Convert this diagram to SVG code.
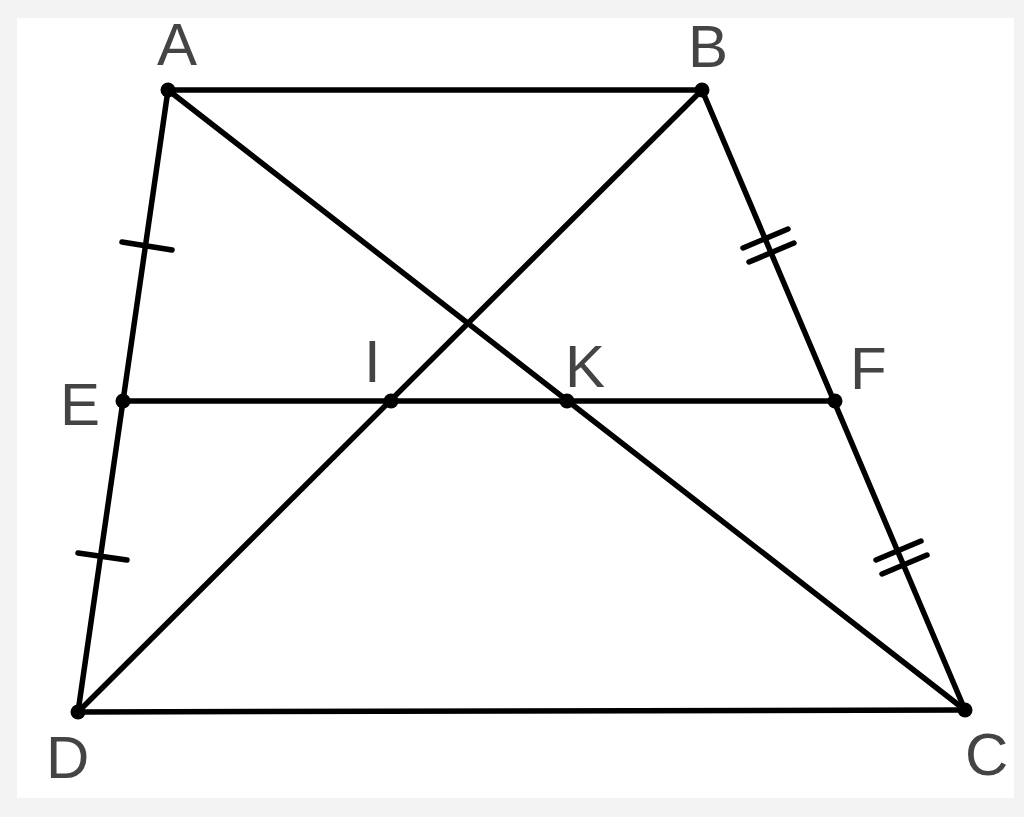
<svg xmlns="http://www.w3.org/2000/svg" width="1024" height="817" viewBox="0 0 1024 817">
<style>
.l{stroke:#000;stroke-width:5.5;stroke-linecap:round;fill:none}
.t{stroke:#000;stroke-width:5.5;stroke-linecap:round}
.p{fill:#000}
.lb{font-family:"Liberation Sans",Arial,sans-serif;font-size:60px;fill:#444}
</style>
<rect width="1024" height="817" fill="#f3f3f3"/>
<rect x="17" y="18" width="997" height="780" fill="#fff"/>
<g id="connectors">
<line class="l" x1="168" y1="90" x2="702" y2="90"/>
<line class="l" x1="78" y1="712" x2="965" y2="710"/>
<line class="l" x1="168" y1="90" x2="78" y2="712"/>
<line class="l" x1="702" y1="90" x2="965" y2="710"/>
<line class="l" x1="168" y1="90" x2="965" y2="710"/>
<line class="l" x1="702" y1="90" x2="78" y2="712"/>
<line class="l" x1="123" y1="401" x2="835" y2="401"/>
</g>
<g id="ticks">
<line class="t" x1="122" y1="242" x2="172" y2="250"/>
<line class="t" x1="78" y1="553" x2="127" y2="560"/>
<line class="t" x1="743" y1="248" x2="788" y2="229"/>
<line class="t" x1="749" y1="262" x2="794" y2="243"/>
<line class="t" x1="876" y1="560" x2="921" y2="541"/>
<line class="t" x1="882" y1="574" x2="927" y2="555"/>
</g>
<g id="A"><circle class="p" cx="168" cy="90" r="7.5"/><text class="lb" x="157" y="65">A</text></g>
<g id="B"><circle class="p" cx="702" cy="90" r="7.5"/><text class="lb" x="688" y="67">B</text></g>
<g id="C"><circle class="p" cx="965" cy="710" r="7.5"/><text class="lb" x="965" y="775">C</text></g>
<g id="D"><circle class="p" cx="78" cy="712" r="7.5"/><text class="lb" x="46" y="778">D</text></g>
<g id="E"><circle class="p" cx="123" cy="401" r="7.5"/><text class="lb" x="60" y="425">E</text></g>
<g id="F"><circle class="p" cx="835" cy="401" r="7.5"/><text class="lb" x="850" y="389">F</text></g>
<g id="I"><circle class="p" cx="391" cy="401" r="7.5"/><text class="lb" x="364" y="382">I</text></g>
<g id="K"><circle class="p" cx="567" cy="401" r="7.5"/><text class="lb" x="565" y="387">K</text></g>
</svg>
